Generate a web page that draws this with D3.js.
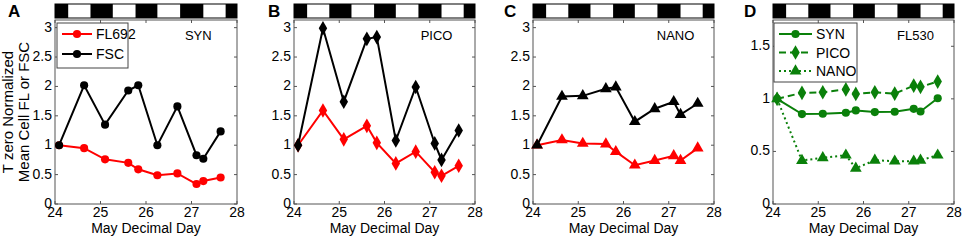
<!DOCTYPE html>
<html>
<head>
<meta charset="utf-8">
<script src="https://cdn.jsdelivr.net/npm/d3@7"></script>
<style>
  body { margin: 0; background: #fff; }
  svg { display: block; font-family: "Liberation Sans", Arial, sans-serif; }
</style>
</head>
<body>
<div id="chart"></div>
<script>
// sampling times (May decimal day)
const days = [24.09, 24.64, 25.10, 25.61, 25.83, 26.25, 26.69, 27.11, 27.26, 27.64];

// panel A - SYN
const synFL692 = [1.0, 0.95, 0.76, 0.70, 0.59, 0.49, 0.52, 0.34, 0.39, 0.45];
const synFSC   = [1.0, 2.02, 1.35, 1.93, 2.02, 1.0, 1.66, 0.83, 0.77, 1.235];
// panel B - PICO
const picoFL692 = [1.0, 1.59, 1.10, 1.33, 1.04, 0.69, 0.89, 0.54, 0.48, 0.65];
const picoFSC   = [1.0, 2.99, 1.74, 2.81, 2.84, 1.08, 1.99, 1.03, 0.75, 1.25];
// panel C - NANO
const nanoFL692 = [1.0, 1.09, 1.03, 1.02, 0.89, 0.66, 0.74, 0.82, 0.74, 0.95];
const nanoFSC   = [1.0, 1.83, 1.84, 1.96, 1.99, 1.40, 1.62, 1.74, 1.52, 1.71];
// panel D - FL530
const synFL530  = [1.0, 0.855, 0.858, 0.868, 0.89, 0.874, 0.877, 0.905, 0.88, 1.006];
const picoFL530 = [1.0, 1.057, 1.063, 1.09, 1.047, 1.063, 1.05, 1.126, 1.114, 1.164];
const nanoFL530 = [1.0, 0.413, 0.44, 0.464, 0.34, 0.416, 0.407, 0.407, 0.416, 0.464];

// night periods (black boxes in the top bar)
const nightStart = [23.78, 24.78, 25.77, 26.75, 27.75];
const nightEnd   = [24.29, 25.27, 26.25, 27.26, 28.27];

const xTicks = [24, 25, 26, 27, 28];
const yTicksABC = [0, 0.5, 1, 1.5, 2, 2.5, 3];
const yTicksD = [0, 0.5, 1, 1.5];

const W = 964, H = 241;
const plotTop = 20, plotBottom = 204;
const green = "#0a800a";

const svg = d3.select("#chart").append("svg")
  .attr("width", W).attr("height", H);

const sym = {
  circle: d3.symbol().type(d3.symbolCircle).size(52),
  diamond: d3.symbol().type(d3.symbolDiamond).size(62),
  triangle: d3.symbol().type(d3.symbolTriangle).size(60)
};

function drawPanel(p) {
  const x = d3.scaleLinear().domain([24, 28]).range([p.left, p.right]);
  const y = d3.scaleLinear().domain([0, p.yMax]).range([plotBottom, plotTop]);
  const g = svg.append("g");

  // day / night bar
  g.append("rect")
    .attr("x", x(24)).attr("y", 4)
    .attr("width", x(28) - x(24)).attr("height", 14)
    .attr("fill", "#fff").attr("stroke", "#000").attr("stroke-width", 1);
  g.selectAll(".night").data(nightStart).join("rect")
    .attr("x", d => x(Math.max(24, d)))
    .attr("y", 4)
    .attr("width", (d, i) => x(Math.min(28, nightEnd[i])) - x(Math.max(24, d)))
    .attr("height", 14)
    .attr("fill", "#000");

  // axes box
  g.append("rect")
    .attr("x", x(24)).attr("y", plotTop)
    .attr("width", x(28) - x(24)).attr("height", plotBottom - plotTop)
    .attr("fill", "none").attr("stroke", "#555").attr("stroke-width", 1);

  // ticks (inside, bottom/top/left/right)
  const tk = 3;
  g.selectAll(".xt").data(xTicks).join("path")
    .attr("d", d => `M${x(d)},${plotBottom}v${-tk}M${x(d)},${plotTop}v${tk}`)
    .attr("stroke", "#555");
  g.selectAll(".yt").data(p.yTicks).join("path")
    .attr("d", d => `M${p.left},${y(d)}h${tk}M${p.right},${y(d)}h${-tk}`)
    .attr("stroke", "#555");

  g.selectAll(".xl").data(xTicks).join("text")
    .attr("x", d => x(d)).attr("y", plotBottom + 13)
    .attr("text-anchor", "middle").attr("font-size", 14)
    .text(d => d);
  g.selectAll(".yl").data(p.yTicks).join("text")
    .attr("x", p.left - 3).attr("y", d => y(d) + 4)
    .attr("text-anchor", "end").attr("font-size", 14)
    .text(d => d);

  g.append("text")
    .attr("x", (p.left + p.right) / 2).attr("y", 233)
    .attr("text-anchor", "middle").attr("font-size", 14)
    .text("May Decimal Day");

  g.append("text")
    .attr("x", p.letterX).attr("y", 17)
    .attr("font-size", 17).attr("font-weight", "bold")
    .text(p.letter);

  g.append("text")
    .attr("x", x(p.tagDay)).attr("y", 40)
    .attr("text-anchor", "middle").attr("font-size", 13)
    .text(p.tag);

  const line = d3.line().x((d, i) => x(days[i])).y(d => y(d));
  p.series.forEach(s => {
    g.append("path").datum(s.values)
      .attr("d", line)
      .attr("fill", "none").attr("stroke", s.color)
      .attr("stroke-width", 2)
      .attr("stroke-dasharray", s.dash || null);
    g.selectAll(null).data(s.values).join("path")
      .attr("d", sym[s.marker])
      .attr("transform", (d, i) => `translate(${x(days[i])},${y(d)})`)
      .attr("fill", s.color);
  });

  if (p.legend) {
    const L = p.legend;
    g.append("rect")
      .attr("x", L.x).attr("y", L.y).attr("width", L.w).attr("height", L.h)
      .attr("fill", "#fff").attr("stroke", "#444").attr("stroke-width", 1);
    p.series.forEach((s, i) => {
      const ly = L.y + 11 + i * L.step;
      g.append("path")
        .attr("d", `M${L.x + 5},${ly}h${L.len}`)
        .attr("stroke", s.color).attr("stroke-width", 2)
        .attr("stroke-dasharray", s.dash || null);
      g.append("path").attr("d", sym[s.marker])
        .attr("transform", `translate(${L.x + 5 + L.len / 2},${ly})`)
        .attr("fill", s.color);
      g.append("text")
        .attr("x", L.x + 9 + L.len).attr("y", ly + 5)
        .attr("font-size", 14)
        .text(s.name);
    });
  }
}

drawPanel({
  left: 55, right: 237, yMax: 3.13, yTicks: yTicksABC, letter: "A", letterX: 8,
  tag: "SYN", tagDay: 27.15,
  series: [
    {name: "FL692", values: synFL692, color: "#ff0000", marker: "circle"},
    {name: "FSC", values: synFSC, color: "#000", marker: "circle"}
  ],
  legend: {x: 57, y: 23, w: 71, h: 45, step: 20, len: 30}
});
drawPanel({
  left: 294, right: 475, yMax: 3.13, yTicks: yTicksABC, letter: "B", letterX: 268,
  tag: "PICO", tagDay: 27.15,
  series: [
    {name: "FL692", values: picoFL692, color: "#ff0000", marker: "diamond"},
    {name: "FSC", values: picoFSC, color: "#000", marker: "diamond"}
  ]
});
drawPanel({
  left: 533, right: 714, yMax: 3.13, yTicks: yTicksABC, letter: "C", letterX: 504,
  tag: "NANO", tagDay: 27.15,
  series: [
    {name: "FL692", values: nanoFL692, color: "#ff0000", marker: "triangle"},
    {name: "FSC", values: nanoFSC, color: "#000", marker: "triangle"}
  ]
});
drawPanel({
  left: 773, right: 954, yMax: 1.75, yTicks: yTicksD, letter: "D", letterX: 744,
  tag: "FL530", tagDay: 27.15,
  series: [
    {name: "SYN", values: synFL530, color: green, marker: "circle"},
    {name: "PICO", values: picoFL530, color: green, marker: "diamond", dash: "7,4"},
    {name: "NANO", values: nanoFL530, color: green, marker: "triangle", dash: "2,3"}
  ],
  legend: {x: 774, y: 23, w: 83, h: 59, step: 18.5, len: 33}
});

// y axis title of panel A
const yt = svg.append("text")
  .attr("transform", "translate(13,112) rotate(-90)")
  .attr("text-anchor", "middle").attr("font-size", 15);
yt.append("tspan").attr("x", 0).attr("dy", 0).text("T zero Normalized");
yt.append("tspan").attr("x", 0).attr("dy", 16).text("Mean Cell FL or FSC");
</script>
</body>
</html>
